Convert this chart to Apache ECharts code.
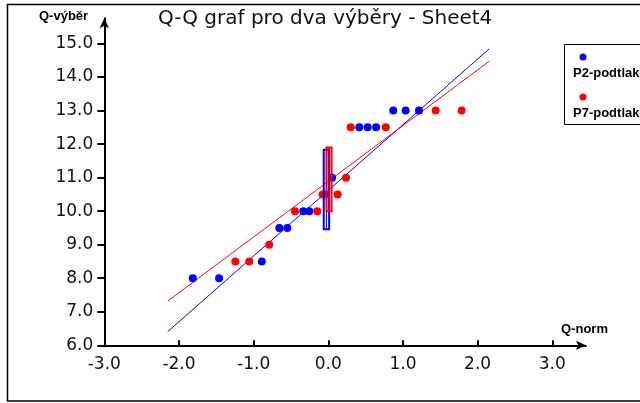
<!DOCTYPE html>
<html>
<head>
<meta charset="utf-8">
<script src="https://cdn.jsdelivr.net/npm/echarts@6/dist/echarts.min.js"></script>
<style>html,body{margin:0;padding:0;background:#fff}#c{width:640px;height:403px}</style>
</head>
<body>
<div id="c"></div>
<script>
// ---- data ----
const titleText = 'Q-Q graf pro dva výběry - Sheet4';
const xName = 'Q-norm';
const yName = 'Q-výběr';
const seriesNames = ['P2-podtlak', 'P7-podtlak'];
const xTicks = [-3, -2, -1, 0, 1, 2, 3];
const yTicks = [6, 7, 8, 9, 10, 11, 12, 13, 14, 15];

const p2X = [-1.815, -1.463, -0.89, -0.656, -0.549, -0.335, -0.254, -0.05, 0.05, 0.415, 0.527, 0.64, 0.87, 1.036, 1.214];
const p2Y = [8.0, 8.0, 8.5, 9.5, 9.5, 10.0, 10.0, 10.5, 11.0, 12.5, 12.5, 12.5, 13.0, 13.0, 13.0];
const p7X = [-1.245, -1.058, -0.79, -0.446, -0.147, -0.076, 0.125, 0.237, 0.30, 0.77, 1.438, 1.786];
const p7Y = [8.5, 8.5, 9.0, 10.0, 10.0, 10.5, 10.5, 11.0, 12.5, 12.5, 13.0, 13.0];

// fitted lines (end points)
const p2LineX = [-2.15, 2.155];
const p2LineY = [6.41, 14.84];
const p7LineX = [-2.15, 2.155];
const p7LineY = [7.32, 14.47];

// narrow boxes at x = 0 : [center, halfWidth, low, high]
const p2Box = [-0.025, 0.036, 9.46, 11.83];
const p7Box = [0.01, 0.034, 10.0, 11.9];

const BLUE = '#0000ff', RED = '#ff0000';

const zip = (a, b) => a.map((v, i) => [v, b[i]]);

const chart = echarts.init(document.getElementById('c'));

function boxRender(color) {
  return function (params, api) {
    const c = api.value(0), hw = api.value(1), lo = api.value(2), hi = api.value(3);
    const tl = api.coord([c - hw, hi]);
    const br = api.coord([c + hw, lo]);
    const top = api.coord([c, hi]);
    const bot = api.coord([c, lo]);
    return {
      type: 'group',
      children: [
        { type: 'rect', shape: { x: tl[0], y: tl[1], width: br[0] - tl[0], height: br[1] - tl[1] },
          style: { fill: 'none', stroke: color, lineWidth: 2 } },
        { type: 'line', shape: { x1: top[0], y1: top[1], x2: bot[0], y2: bot[1] },
          style: { stroke: color, lineWidth: 1 } }
      ]
    };
  };
}

const option = {
  animation: false,
  backgroundColor: '#fff',
  title: {
    text: titleText, left: 153, top: 4,
    textStyle: { fontFamily: 'DejaVu Sans', fontSize: 20, fontWeight: 'normal', color: '#111' }
  },
  grid: { left: 104.3, right: 54.1, top: 18.35, bottom: 57.7, containLabel: false },
  xAxis: {
    type: 'value', min: -3, max: 3.45,
    axisLine: { show: true, onZero: false, symbol: ['none', 'arrow'], symbolSize: [7, 10], lineStyle: { color: '#000', width: 2 } },
    axisTick: { show: true, inside: true, length: 5, customValues: xTicks, lineStyle: { color: '#000', width: 2 } },
    axisLabel: { customValues: xTicks, margin: 11, formatter: v => v.toFixed(1),
      fontFamily: 'DejaVu Sans', fontSize: 17, color: '#111' },
    splitLine: { show: false }
  },
  yAxis: {
    type: 'value', min: 6, max: 15.75,
    axisLine: { show: true, onZero: false, symbol: ['none', 'arrow'], symbolSize: [7, 10], lineStyle: { color: '#000', width: 2 } },
    axisTick: { show: true, inside: false, length: 7, customValues: yTicks, lineStyle: { color: '#000', width: 2 } },
    axisLabel: { customValues: yTicks, margin: 11, formatter: v => v.toFixed(1),
      fontFamily: 'DejaVu Sans', fontSize: 17, color: '#111' },
    splitLine: { show: false }
  },
  graphic: [
    { type: 'rect', silent: true, shape: { x: 7.5, y: 4.5, width: 700, height: 396.5 },
      style: { fill: 'none', stroke: '#000', lineWidth: 1.5 }, z: 100 },
    { type: 'text', left: 39, top: 10, style: { text: yName, font: 'bold 13px "Liberation Sans"', fill: '#000' } },
    { type: 'text', left: 561, top: 323, style: { text: xName, font: 'bold 13px "Liberation Sans"', fill: '#000' } },
    { type: 'rect', shape: { x: 564.5, y: 44.5, width: 100, height: 80 },
      style: { fill: '#fff', stroke: '#000', lineWidth: 1 }, z: 50 },
    { type: 'circle', shape: { cx: 583, cy: 57, r: 3.5 }, style: { fill: BLUE }, z: 51 },
    { type: 'text', left: 573, top: 67, style: { text: seriesNames[0], font: 'bold 13px "Liberation Sans"', fill: '#000' }, z: 51 },
    { type: 'circle', shape: { cx: 583, cy: 97, r: 3.5 }, style: { fill: RED }, z: 51 },
    { type: 'text', left: 573, top: 107, style: { text: seriesNames[1], font: 'bold 13px "Liberation Sans"', fill: '#000' }, z: 51 }
  ],
  series: [
    { name: seriesNames[0] + ' fit', type: 'line', data: zip(p2LineX, p2LineY), symbol: 'none',
      lineStyle: { color: BLUE, width: 1 }, z: 2 },
    { name: seriesNames[1] + ' fit', type: 'line', data: zip(p7LineX, p7LineY), symbol: 'none',
      lineStyle: { color: RED, width: 1 }, z: 2 },
    { name: seriesNames[0], type: 'scatter', data: zip(p2X, p2Y), symbol: 'circle', symbolSize: 8,
      itemStyle: { color: BLUE, opacity: 1 }, z: 3 },
    { name: seriesNames[1], type: 'scatter', data: zip(p7X, p7Y), symbol: 'circle', symbolSize: 8,
      itemStyle: { color: RED, opacity: 1 }, z: 4 },
    { type: 'custom', renderItem: boxRender(BLUE), data: [p2Box], z: 5 },
    { type: 'custom', renderItem: boxRender(RED), data: [p7Box], z: 6 }
  ]
};
chart.setOption(option);
</script>
</body>
</html>
